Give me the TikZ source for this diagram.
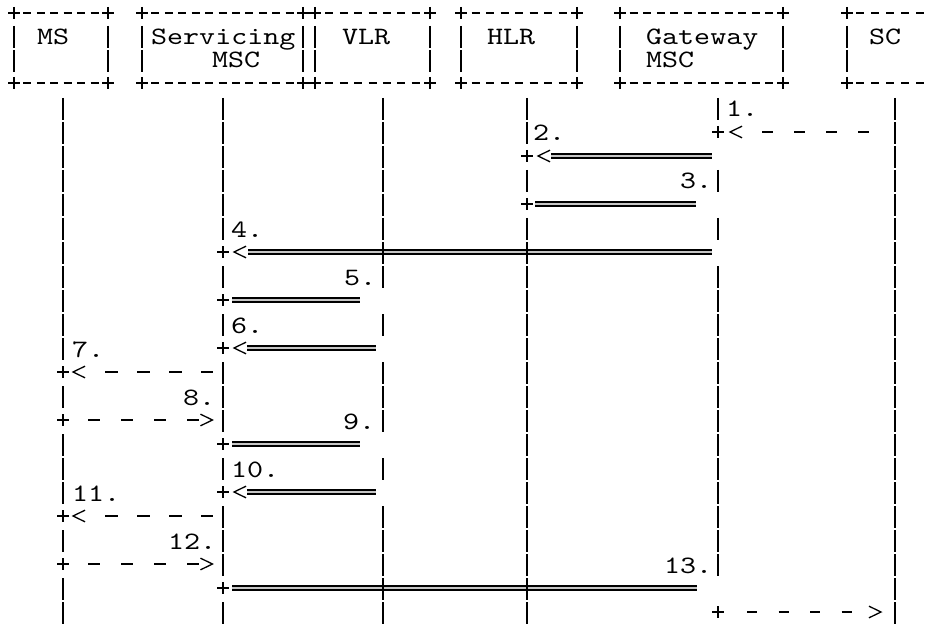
\documentclass[tikz,border=0pt]{standalone}
\usepackage{fontspec}
\newfontfamily\asciifont{lmmono10-regular.otf}[FakeStretch=1.22]
\newcommand\RY[1]{\the\numexpr 13+24*#1\relax}
\tikzset{
 ascii/.style={line width=1.3pt},
 dbl/.style={line width=1.9pt, double=gray!45, double distance=2.2pt},
 lbl/.style={font=\asciifont\fontsize{25}{30}\selectfont, inner sep=0pt, anchor=base west},
 bar/.pic={\draw[ascii] (0,-11) -- (0,11);},
 plus/.pic={\draw[ascii] (-6,0) -- (6,0) (0,-6) -- (0,6);},
 ltip/.pic={\draw[ascii] (6,-5.8) -- (-6,0) -- (6,5.8);},
 rtip/.pic={\draw[ascii] (-6,-5.8) -- (6,0) -- (-6,5.8);},
 bdash/.pic={\draw[ascii] (-4,0) -- (4,0);},
}
\newcommand\abox[4]{%
  \node[inner sep=0pt, minimum width={(#3-#2)*1pt}, minimum height=70pt] (#1) at ({(#2+#3)/2},48) {};
  \pic at (#2,13) {plus}; \pic at (#3,13) {plus};
  \pic at (#2,83) {plus}; \pic at (#3,83) {plus};
  \foreach \k in {1,...,#4} {
    \pic at ({#2+\k*(#3-#2)/(#4+1)},13) {bdash};
    \pic at ({#2+\k*(#3-#2)/(#4+1)},83) {bdash};
  }
  \pic at (#2,37) {bar}; \pic at (#2,61) {bar};
  \pic at (#3,37) {bar}; \pic at (#3,61) {bar};
}
\begin{document}
\begin{tikzpicture}[x=1pt,y=-1pt]
\useasboundingbox[fill=white] (0,0) rectangle (925,628);

% header boxes
\abox{ms}{14}{108}{6}
\abox{serv}{142}{303}{11}
\abox{vlr}{315}{430}{7}
\abox{hlr}{461}{577}{7}
\abox{gw}{620}{783}{11}
% SC box (cut by the right edge)
\node[inner sep=0pt, minimum width=78pt, minimum height=70pt] (sc) at (886,48) {};
\pic at (847,13) {plus}; \pic at (847,83) {plus};
\foreach \xx in {860,875,890,905,920} {\pic at (\xx,13) {bdash}; \pic at (\xx,83) {bdash};}
\pic at (847,37) {bar}; \pic at (847,61) {bar};

% header texts
\node[lbl] (tms)   at (37,44.5)  {MS};
\node[lbl] (tserv) at (151,44.5) {Servicing};
\node[lbl] (tsmsc) at (212,68)   {MSC};
\node[lbl] (tvlr)  at (342,44.5) {VLR};
\node[lbl] (thlr)  at (487,44.5) {HLR};
\node[lbl] (tgw)   at (646,44.5) {Gateway};
\node[lbl] (tgmsc) at (646,68)   {MSC};
\node[lbl] (tsc)   at (869,44.5) {SC};

% lifeline coordinates
\coordinate (msL) at (63,0);
\coordinate (svL) at (223,0);
\coordinate (vlL) at (383,0);
\coordinate (hlL) at (527,0);
\coordinate (gwL) at (718,0);
\coordinate (scL) at (895,0);

% double-line messages
\draw[dbl] ([xshift=24pt]hlL |- 0,156) -- ([xshift=-6pt]gwL |- 0,156);
\draw[dbl] ([xshift=8pt]hlL |- 0,204) -- ([xshift=-22pt]gwL |- 0,204);
\draw[dbl] ([xshift=25pt]svL |- 0,252) -- ([xshift=-6pt]gwL |- 0,252);
\draw[dbl] ([xshift=9pt]svL |- 0,300) -- ([xshift=-23pt]vlL |- 0,300);
\draw[dbl] ([xshift=24pt]svL |- 0,348) -- ([xshift=-7pt]vlL |- 0,348);
\draw[dbl] ([xshift=9pt]svL |- 0,444) -- ([xshift=-23pt]vlL |- 0,444);
\draw[dbl] ([xshift=24pt]svL |- 0,492) -- ([xshift=-7pt]vlL |- 0,492);
\draw[dbl] ([xshift=9pt]svL |- 0,588) -- ([xshift=-21pt]gwL |- 0,588);
% arrow starts
\pic at (hlL |- 0,156) {plus}; \pic at ([xshift=17pt]hlL |- 0,156) {ltip};
\pic at (hlL |- 0,204) {plus};
\pic at (svL |- 0,252) {plus}; \pic at ([xshift=17pt]svL |- 0,252) {ltip};
\pic at (svL |- 0,300) {plus};
\pic at (svL |- 0,348) {plus}; \pic at ([xshift=17pt]svL |- 0,348) {ltip};
\pic at (svL |- 0,444) {plus};
\pic at (svL |- 0,492) {plus}; \pic at ([xshift=17pt]svL |- 0,492) {ltip};
\pic at (svL |- 0,588) {plus};

% dashed messages
\draw[ascii, dash pattern=on 10.5pt off 21.5pt] ([xshift=44pt]gwL |- 0,132) -- ([xshift=-26.5pt]scL |- 0,132);
\pic at (gwL |- 0,132) {plus}; \pic at ([xshift=18pt]gwL |- 0,132) {ltip};
\foreach \yy in {372,516} {
  \draw[ascii, dash pattern=on 13pt off 19pt] ([xshift=42pt]msL |- 0,\yy) -- ([xshift=-10pt]svL |- 0,\yy);
  \pic at (msL |- 0,\yy) {plus}; \pic at ([xshift=16pt]msL |- 0,\yy) {ltip};
}
\foreach \yy in {420,564} {
  \draw[ascii, dash pattern=on 12pt off 21pt] ([xshift=25pt]msL |- 0,\yy) -- ([xshift=-24pt]svL |- 0,\yy);
  \pic at (msL |- 0,\yy) {plus}; \pic at ([xshift=-16.5pt]svL |- 0,\yy) {rtip};
}
\draw[ascii, dash pattern=on 10pt off 21.5pt] ([xshift=29pt]gwL |- 0,612) -- ([xshift=-43pt]scL |- 0,612);
\pic at (gwL |- 0,612) {plus}; \pic at ([xshift=-20pt]scL |- 0,612) {rtip};

% lifelines
\foreach \r in {4,...,14,16,18,19,20,22,24,25} {\pic at (msL |- 0,\RY{\r}) {bar};}
\foreach \r in {4,...,9,11,13,15,16,17,19,21,22,23,25} {\pic at (svL |- 0,\RY{\r}) {bar};}
\foreach \r in {4,...,11,13,15,16,17,19,21,22,23,24,25} {\pic at (vlL |- 0,\RY{\r}) {bar};}
\foreach \r in {4,5,7,9,10,...,25} {\pic at (hlL |- 0,\RY{\r}) {bar};}
\foreach \r in {4,7,9,11,12,...,23} {\pic at (gwL |- 0,\RY{\r}) {bar};}
\foreach \r in {4,...,25} {\pic at (scL |- 0,\RY{\r}) {bar};}

% message labels
\node[lbl] (l1)  at (726,117) {1.};
\node[lbl] (l2)  at (533,141) {2.};
\node[lbl] (l3)  at (680,189) {3.};
\node[lbl] (l4)  at (231,237) {4.};
\node[lbl] (l5)  at (344,285) {5.};
\node[lbl] (l6)  at (231,333) {6.};
\node[lbl] (l7)  at (72,357)  {7.};
\node[lbl] (l8)  at (183,405) {8.};
\node[lbl] (l9)  at (343,429) {9.};
\node[lbl] (l10) at (231,477) {10.};
\node[lbl] (l11) at (72,501)  {11.};
\node[lbl] (l12) at (168,549) {12.};
\node[lbl] (l13) at (664,573) {13.};
\end{tikzpicture}
\end{document}
